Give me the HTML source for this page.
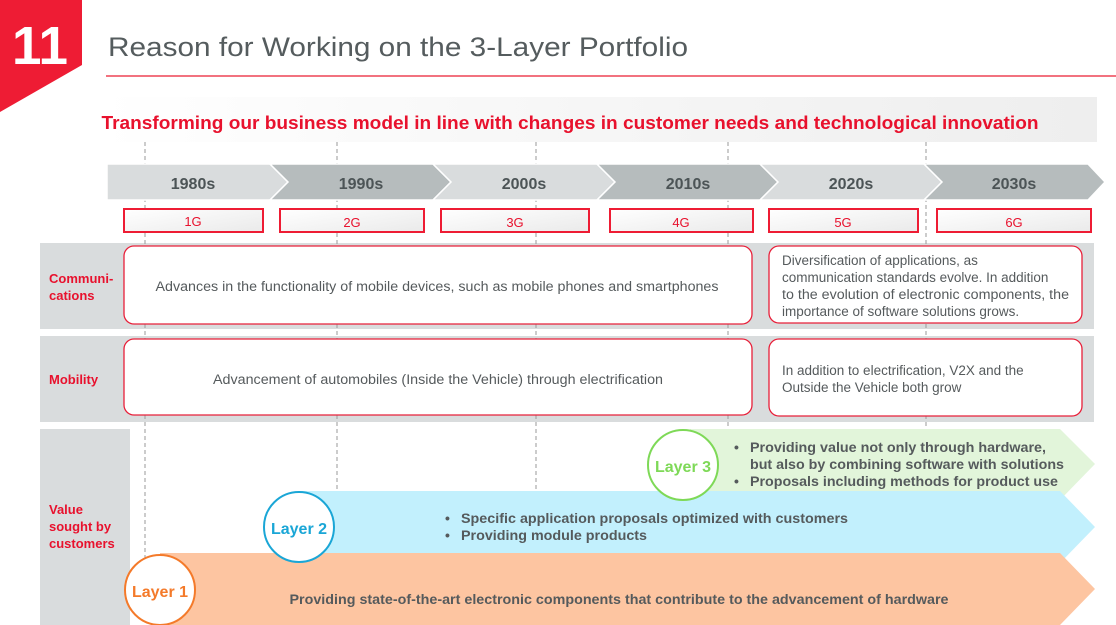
<!DOCTYPE html>
<html><head><meta charset="utf-8"><style>
html,body{margin:0;padding:0;background:#fff;width:1116px;height:625px;overflow:hidden}
svg{display:block;font-family:"Liberation Sans",Arial,sans-serif}
</style></head><body>
<svg width="1116" height="625" viewBox="0 0 1116 625" xmlns="http://www.w3.org/2000/svg">
<defs>
<linearGradient id="bn" x1="0" x2="1" y1="0" y2="0"><stop offset="0" stop-color="#fff"/><stop offset="0.5" stop-color="#f6f6f6"/><stop offset="1" stop-color="#eeeeee"/></linearGradient>
<linearGradient id="gb" x1="0" x2="1" y1="0" y2="1"><stop offset="0" stop-color="#fff"/><stop offset="1" stop-color="#eaeaea"/></linearGradient>
</defs>
<polygon points="0,0 82,0 82,65 0,112" fill="#ee1c34"/>
<text x="40" y="64" fill="#fff" font-size="54" font-weight="bold" text-anchor="middle" textLength="56" lengthAdjust="spacingAndGlyphs">11</text>
<text x="108" y="56" fill="#555c5e" font-size="27" textLength="580" lengthAdjust="spacingAndGlyphs">Reason for Working on the 3-Layer Portfolio</text>
<line x1="106" y1="76" x2="1116" y2="76" stroke="#ee4455" stroke-width="1.5"/>
<rect x="100" y="97" width="997" height="45" fill="url(#bn)"/>
<text x="570" y="129" fill="#e8112d" font-size="18" font-weight="bold" text-anchor="middle" textLength="937" lengthAdjust="spacingAndGlyphs">Transforming our business model in line with changes in customer needs and technological innovation</text>
<rect x="40" y="243" width="1054" height="86" fill="#d9dcdd"/>
<rect x="40" y="336" width="1054" height="86" fill="#d9dcdd"/>
<rect x="40" y="429" width="90" height="196" fill="#d9dcdd"/>
<g stroke="#9a9a9a" stroke-width="1" stroke-dasharray="4,3">
<line x1="145" y1="142" x2="145" y2="560"/>
<line x1="337" y1="142" x2="337" y2="495"/>
<line x1="536" y1="142" x2="536" y2="495"/>
<line x1="728" y1="142" x2="728" y2="432"/>
<line x1="926" y1="142" x2="926" y2="432"/>
</g>
<g stroke="#fff" stroke-width="1.5">
<polygon points="107,164 270,164 288,182 270,200 107,200" fill="#d9dcdd"/>
<polygon points="270,164 433,164 451,182 433,200 270,200 288,182" fill="#b6bcbd"/>
<polygon points="433,164 597,164 615,182 597,200 433,200 451,182" fill="#d9dcdd"/>
<polygon points="597,164 760,164 778,182 760,200 597,200 615,182" fill="#b6bcbd"/>
<polygon points="760,164 924,164 942,182 924,200 760,200 778,182" fill="#d9dcdd"/>
<polygon points="924,164 1088,164 1105,182 1088,200 924,200 942,182" fill="#b6bcbd"/>
</g>
<g fill="#4c5456" font-size="16" font-weight="bold" text-anchor="middle">
<text x="193" y="189">1980s</text><text x="361" y="189">1990s</text><text x="524" y="189">2000s</text>
<text x="688" y="189">2010s</text><text x="851" y="189">2020s</text><text x="1014" y="189">2030s</text>
</g>
<g fill="url(#gb)" stroke="#ee1c34" stroke-width="2">
<rect x="124" y="209" width="139" height="23"/><rect x="280" y="209" width="144" height="23"/>
<rect x="441" y="209" width="148" height="23"/><rect x="610" y="209" width="143" height="23"/>
<rect x="769" y="209" width="149" height="23"/><rect x="937" y="209" width="154" height="23"/>
</g>
<g fill="#e8112d" font-size="13" text-anchor="middle">
<text x="193" y="226">1G</text><text x="352" y="227">2G</text><text x="515" y="227">3G</text>
<text x="681" y="227">4G</text><text x="843" y="227">5G</text><text x="1014" y="227">6G</text>
</g>
<g fill="#e8112d" font-size="13" font-weight="bold">
<text x="49" y="283">Communi-</text><text x="49" y="300">cations</text>
<text x="49" y="384">Mobility</text>
<text x="49" y="514">Value</text><text x="49" y="531">sought by</text><text x="49" y="548">customers</text>
</g>
<g fill="#fff" stroke="#e8203a" stroke-width="1.3">
<rect x="124" y="246" width="628" height="78" rx="10"/>
<rect x="769" y="246" width="313" height="77" rx="10"/>
<rect x="124" y="339" width="628" height="76" rx="10"/>
<rect x="769" y="339" width="313" height="77" rx="10"/>
</g>
<g fill="#555a5c" font-size="13.5">
<text x="437" y="291" text-anchor="middle" textLength="563" lengthAdjust="spacingAndGlyphs">Advances in the functionality of mobile devices, such as mobile phones and smartphones</text>
<text x="782" y="265">Diversification of applications, as</text>
<text x="782" y="282">communication standards evolve. In addition</text>
<text x="782" y="299" textLength="287" lengthAdjust="spacingAndGlyphs">to the evolution of electronic components, the</text>
<text x="782" y="316">importance of software solutions grows.</text>
<text x="438" y="384" text-anchor="middle" textLength="450" lengthAdjust="spacingAndGlyphs">Advancement of automobiles (Inside the Vehicle) through electrification</text>
<text x="782" y="375">In addition to electrification, V2X and the</text>
<text x="782" y="392">Outside the Vehicle both grow</text>
</g>
<polygon points="690,429 1060,429 1095,464 1060,500 690,500" fill="#e2f5da"/>
<polygon points="300,491 1060,491 1095,527 1060,563 300,563" fill="#c2f0fd"/>
<polygon points="160,553 1060,553 1095,589 1060,625 160,625" fill="#fdc5a1"/>
<circle cx="683" cy="465" r="35" fill="#fff" stroke="#7ed957" stroke-width="2"/>
<circle cx="299" cy="527" r="35" fill="#fff" stroke="#1aa6d6" stroke-width="2"/>
<circle cx="160" cy="590" r="35" fill="#fff" stroke="#f47a2a" stroke-width="2"/>
<g font-size="16" font-weight="bold" text-anchor="middle">
<text x="683" y="472" fill="#7ed957">Layer 3</text>
<text x="299" y="534" fill="#1aa6d6">Layer 2</text>
<text x="160" y="597" fill="#f47a2a">Layer 1</text>
</g>
<g fill="#555a5c" font-size="14" font-weight="bold">
<text x="734" y="452">•</text><text x="750" y="452" textLength="296" lengthAdjust="spacingAndGlyphs">Providing value not only through hardware,</text>
<text x="750" y="469" textLength="314" lengthAdjust="spacingAndGlyphs">but also by combining software with solutions</text>
<text x="734" y="486">•</text><text x="750" y="486" textLength="308" lengthAdjust="spacingAndGlyphs">Proposals including methods for product use</text>
<text x="445" y="523">•</text><text x="461" y="523" textLength="387" lengthAdjust="spacingAndGlyphs">Specific application proposals optimized with customers</text>
<text x="445" y="540">•</text><text x="461" y="540" textLength="186" lengthAdjust="spacingAndGlyphs">Providing module products</text>
<text x="619" y="604" text-anchor="middle" textLength="659" lengthAdjust="spacingAndGlyphs">Providing state-of-the-art electronic components that contribute to the advancement of hardware</text>
</g>
</svg>
</body></html>
